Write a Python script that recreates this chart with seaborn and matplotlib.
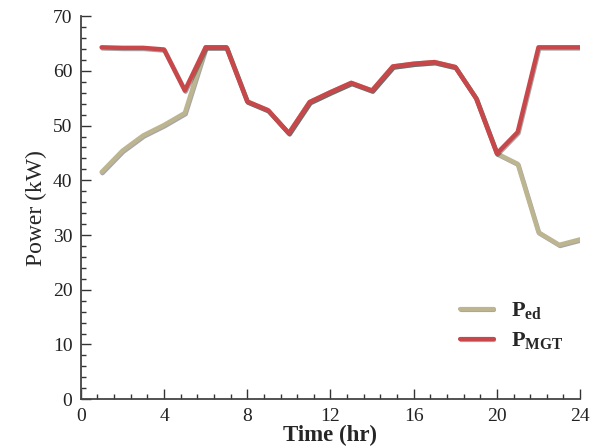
import numpy as np
import pandas as pd
import matplotlib
matplotlib.use("Agg")
import matplotlib.pyplot as plt
import matplotlib.patheffects as pe
from matplotlib.ticker import AutoMinorLocator, MultipleLocator
import seaborn as sns

# Data
hours = list(range(1, 25))
p_ed = [41.5, 45.4, 48.2, 50.1, 52.3, 64.3, 64.3, 54.4, 52.8, 48.6, 54.3, 56.1,
        57.8, 56.4, 60.8, 61.3, 61.6, 60.7, 55.0, 44.9, 43.0, 30.5, 28.2, 29.2]
p_mgt = [64.3, 64.2, 64.2, 63.9, 56.4, 64.3, 64.3, 54.4, 52.8, 48.6, 54.3, 56.1,
         57.8, 56.4, 60.8, 61.3, 61.6, 60.7, 55.0, 44.9, 48.8, 64.3, 64.3, 64.3]

df = pd.DataFrame({
    "Time": hours * 2,
    "Power": p_ed + p_mgt,
    "Series": [r"$\mathbf{P_{ed}}$"] * 24 + [r"$\mathbf{P_{MGT}}$"] * 24,
})

sns.set_style("ticks")
plt.rcParams["font.family"] = ["Liberation Serif", "DejaVu Serif"]
plt.rcParams["mathtext.fontset"] = "custom"
plt.rcParams["mathtext.rm"] = "Liberation Serif"
plt.rcParams["mathtext.bf"] = "Liberation Serif:bold"
plt.rcParams["mathtext.it"] = "Liberation Serif:italic"

fig = plt.figure(figsize=(6.03, 4.48), dpi=100)
ax = fig.add_axes([0.134, 0.109, 0.828, 0.855])

palette = ["#BDB590", "#C8474A"]
sns.lineplot(data=df, x="Time", y="Power", hue="Series", palette=palette,
             linewidth=3.2, ax=ax,
             path_effects=[pe.SimpleLineShadow(offset=(0.6, -0.8), alpha=0.35), pe.Normal()])

ax.set_xlim(0, 24)
ax.set_ylim(0, 70)
ax.xaxis.set_major_locator(MultipleLocator(4))
ax.yaxis.set_major_locator(MultipleLocator(10))
ax.xaxis.set_minor_locator(AutoMinorLocator(5))
ax.yaxis.set_minor_locator(AutoMinorLocator(5))
ax.tick_params(axis="both", which="major", direction="in", length=7, width=1,
               labelsize=14, pad=6, colors="#333333")
ax.tick_params(axis="both", which="minor", direction="in", length=3.5, width=1,
               colors="#333333")
for lbl in ax.get_xticklabels() + ax.get_yticklabels():
    lbl.set_color("#222222")

sns.despine(ax=ax)
ax.spines["left"].set_color("#444444")
ax.spines["bottom"].set_color("#444444")
ax.spines["left"].set_linewidth(1.3)
ax.spines["bottom"].set_linewidth(1.3)

ax.set_xlabel("Time (hr)", fontsize=16.5, fontweight="bold", labelpad=0)
ax.set_ylabel("Power (kW)", fontsize=17, labelpad=4)

leg = ax.legend(loc="upper left", bbox_to_anchor=(0.72, 0.31), frameon=False,
                fontsize=16, handlelength=1.5, labelspacing=0.4, handletextpad=0.8)
for line in leg.get_lines():
    line.set_linewidth(3)

fig.savefig("out.png", dpi=100)
